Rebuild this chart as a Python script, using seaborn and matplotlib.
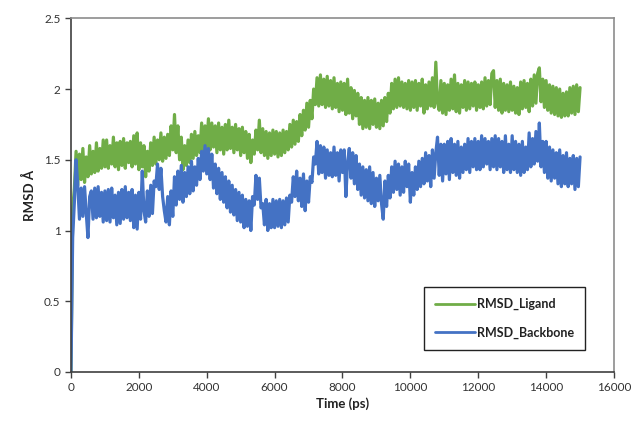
import matplotlib.pyplot as plt
import numpy as np
import pandas as pd
import seaborn as sns

# Time axis (ps), one sample every 50 ps
TIME = np.arange(0, 15001, 50)

# RMSD values (Angstrom), one row per 1000 ps
RMSD_LIGAND = [
    0.00, 1.15, 1.30, 1.56, 1.32, 1.54, 1.36, 1.58, 1.34, 1.52, 1.38, 1.60, 1.40, 1.56, 1.41, 1.62, 1.42, 1.58, 1.44, 1.64,
    1.45, 1.64, 1.44, 1.60, 1.47, 1.66, 1.45, 1.62, 1.43, 1.63, 1.46, 1.65, 1.44, 1.62, 1.48, 1.63, 1.45, 1.67, 1.47, 1.69,
    1.43, 1.62, 1.45, 1.60, 1.38, 1.56, 1.42, 1.62, 1.46, 1.66, 1.47, 1.64, 1.50, 1.69, 1.49, 1.66, 1.51, 1.68, 1.53, 1.74,
    1.57, 1.82, 1.55, 1.74, 1.50, 1.66, 1.43, 1.60, 1.46, 1.64, 1.48, 1.68, 1.51, 1.70, 1.53, 1.67, 1.55, 1.76, 1.57, 1.74,
    1.59, 1.79, 1.57, 1.76, 1.59, 1.74, 1.55, 1.76, 1.57, 1.73, 1.54, 1.75, 1.57, 1.78, 1.58, 1.73, 1.55, 1.75, 1.57, 1.72,
    1.53, 1.73, 1.55, 1.70, 1.51, 1.68, 1.48, 1.64, 1.54, 1.71, 1.57, 1.78, 1.55, 1.72, 1.53, 1.70, 1.51, 1.69, 1.53, 1.71,
    1.54, 1.70, 1.52, 1.69, 1.53, 1.71, 1.55, 1.70, 1.57, 1.75, 1.59, 1.78, 1.61, 1.77, 1.63, 1.82, 1.67, 1.85, 1.71, 1.90,
    1.73, 1.92, 1.79, 2.00, 1.89, 2.08, 1.88, 2.10, 1.89, 2.07, 1.87, 2.09, 1.88, 2.06, 1.86, 2.08, 1.87, 2.04, 1.84, 2.05,
    1.85, 2.04, 1.82, 2.07, 1.83, 2.01, 1.79, 1.99, 1.81, 1.97, 1.75, 1.94, 1.72, 1.92, 1.73, 1.94, 1.72, 1.92, 1.75, 1.93,
    1.73, 1.90, 1.72, 1.92, 1.74, 1.94, 1.77, 1.97, 1.83, 2.04, 1.86, 2.07, 1.87, 2.08, 1.88, 2.05, 1.87, 2.04, 1.86, 2.06,
    1.85, 2.05, 1.87, 2.06, 1.85, 2.04, 1.88, 2.07, 1.83, 2.03, 1.86, 2.05, 1.88, 2.08, 1.87, 2.19, 1.90, 1.85, 2.06, 1.83,
    2.04, 1.82, 2.03, 1.85, 2.07, 1.86, 2.10, 1.84, 2.04, 1.83, 2.03, 1.87, 2.06, 1.85, 2.05, 1.86, 2.04, 1.88, 2.05, 1.85,
    2.03, 1.87, 2.05, 1.86, 2.08, 1.88, 2.06, 1.89, 2.11, 2.13, 1.87, 2.06, 1.85, 2.07, 1.83, 2.04, 1.85, 2.03, 1.84, 2.05,
    1.85, 2.02, 1.83, 2.01, 1.82, 2.05, 1.86, 2.06, 1.87, 2.04, 1.84, 2.07, 1.88, 2.10, 1.90, 2.11, 2.15, 1.91, 2.07, 1.87,
    2.06, 1.85, 2.03, 1.83, 2.02, 1.82, 2.01, 1.81, 2.00, 1.80, 1.97, 1.81, 1.98, 1.81, 2.01, 1.83, 2.02, 1.82, 2.03, 1.84,
    2.01,
]

RMSD_BACKBONE = [
    0.00, 0.95, 1.20, 1.50, 1.32, 1.08, 1.30, 1.10, 1.31, 1.12, 0.95, 1.24, 1.28, 1.08, 1.30, 1.09, 1.31, 1.10, 1.27, 1.06,
    1.28, 1.07, 1.29, 1.06, 1.30, 1.09, 1.25, 1.04, 1.27, 1.05, 1.29, 1.08, 1.31, 1.09, 1.27, 1.07, 1.29, 1.02, 1.25, 1.01,
    1.27, 1.08, 1.42, 1.14, 1.06, 1.28, 1.10, 1.32, 1.12, 1.35, 1.31, 1.47, 1.29, 1.44, 1.24, 1.14, 1.06, 1.24, 1.04, 1.28,
    1.10, 1.38, 1.18, 1.42, 1.22, 1.46, 1.20, 1.41, 1.24, 1.45, 1.26, 1.49, 1.28, 1.45, 1.32, 1.51, 1.36, 1.56, 1.42, 1.60,
    1.40, 1.58, 1.36, 1.54, 1.30, 1.47, 1.26, 1.44, 1.22, 1.41, 1.20, 1.38, 1.16, 1.35, 1.13, 1.32, 1.11, 1.29, 1.07, 1.27,
    1.06, 1.25, 1.02, 1.22, 1.03, 1.21, 1.00, 1.24, 1.18, 1.39, 1.22, 1.37, 1.16, 1.19, 1.04, 1.22, 1.00, 1.19, 1.02, 1.22,
    1.02, 1.21, 1.03, 1.22, 1.02, 1.21, 1.04, 1.23, 1.06, 1.25, 1.20, 1.38, 1.24, 1.42, 1.21, 1.37, 1.17, 1.40, 1.14, 1.35,
    1.20, 1.38, 1.34, 1.52, 1.47, 1.63, 1.40, 1.60, 1.41, 1.59, 1.37, 1.57, 1.39, 1.55, 1.38, 1.59, 1.39, 1.55, 1.35, 1.57,
    1.41, 1.57, 1.24, 1.48, 1.58, 1.37, 1.55, 1.33, 1.53, 1.29, 1.47, 1.25, 1.45, 1.23, 1.43, 1.21, 1.45, 1.19, 1.41, 1.17,
    1.37, 1.21, 1.39, 1.19, 1.08, 1.35, 1.17, 1.39, 1.23, 1.45, 1.27, 1.49, 1.29, 1.47, 1.25, 1.45, 1.27, 1.49, 1.31, 1.47,
    1.20, 1.41, 1.25, 1.45, 1.29, 1.49, 1.31, 1.51, 1.33, 1.55, 1.35, 1.53, 1.31, 1.57, 1.37, 1.55, 1.66, 1.39, 1.61, 1.35,
    1.61, 1.40, 1.63, 1.36, 1.65, 1.41, 1.61, 1.39, 1.63, 1.37, 1.59, 1.41, 1.61, 1.43, 1.65, 1.41, 1.63, 1.45, 1.65, 1.43,
    1.63, 1.43, 1.67, 1.45, 1.65, 1.47, 1.63, 1.43, 1.65, 1.45, 1.67, 1.43, 1.65, 1.45, 1.63, 1.41, 1.67, 1.43, 1.61, 1.41,
    1.67, 1.43, 1.63, 1.41, 1.61, 1.39, 1.63, 1.41, 1.59, 1.43, 1.69, 1.45, 1.65, 1.47, 1.70, 1.49, 1.76, 1.45, 1.63, 1.41,
    1.63, 1.37, 1.59, 1.35, 1.57, 1.37, 1.55, 1.33, 1.57, 1.31, 1.53, 1.33, 1.55, 1.31, 1.51, 1.33, 1.53, 1.29, 1.51, 1.31,
    1.52,
]

SERIES = ["RMSD_Ligand", "RMSD_Backbone"]
COLORS = ["#70AD47", "#4472C4"]


def load_data():

    # Long format so seaborn can colour by series
    df = pd.DataFrame({"Time": TIME, SERIES[0]: RMSD_LIGAND, SERIES[1]: RMSD_BACKBONE})
    df = df.melt(id_vars="Time", var_name="Series", value_name="RMSD")

    return df


def plot_data(df):

    sns.set_style("ticks")
    plt.rcParams["font.family"] = ["Lato", "DejaVu Sans"]

    fig = plt.figure(figsize=(6.36, 4.23), dpi=100)
    ax = fig.add_axes([0.1116, 0.1206, 0.8538, 0.8361])

    sns.lineplot(data=df, x="Time", y="RMSD", hue="Series", hue_order=SERIES,
                 palette=COLORS, sort=False, estimator=None, lw=2.3, ax=ax)

    ax.set_xlim(0, 16000)
    ax.set_ylim(0, 2.5)
    ax.set_xticks(range(0, 16001, 2000))
    ax.set_yticks([0, 0.5, 1, 1.5, 2, 2.5])
    ax.yaxis.set_major_formatter(plt.FuncFormatter(lambda v, _: f"{v:g}"))
    ax.tick_params(direction="out", length=4, width=1, labelsize=8.5,
                   colors="#404040", labelcolor="#333333")

    for side in ["top", "right"]:
        ax.spines[side].set_visible(True)
        ax.spines[side].set_color("#8c8c8c")
    for side in ["left", "bottom"]:
        ax.spines[side].set_color("#404040")
    for s in ax.spines.values():
        s.set_linewidth(1.2)

    ax.set_xlabel("Time (ps)", fontsize=9.5, fontweight="bold", color="#222222", labelpad=3)
    ax.set_ylabel("RMSD Å", fontsize=9.5, fontweight="bold", color="#222222", labelpad=6)

    leg = ax.legend(loc="lower right", bbox_to_anchor=(0.958, 0.045), frameon=True,
                    fancybox=False, edgecolor="#222222", framealpha=1,
                    handlelength=3.2, handletextpad=0.1, labelspacing=1.3,
                    borderpad=0.9, prop={"weight": "bold", "size": 9})
    leg.get_frame().set_linewidth(1.0)
    for line in leg.get_lines():
        line.set_linewidth(2.0)
    for text in leg.get_texts():
        text.set_color("#222222")

    fig.savefig("out.png", dpi=100)


def main():

    df = load_data()
    plot_data(df)


if __name__ == "__main__":
    main()
